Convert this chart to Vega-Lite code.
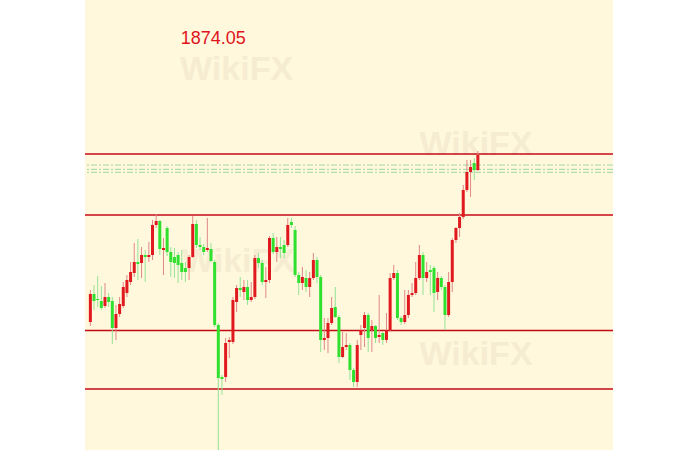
{
  "$schema": "https://vega.github.io/schema/vega-lite/v6.json",
  "autosize": "none",
  "width": 528,
  "height": 450,
  "padding": {"left": 85, "right": 87, "top": 0, "bottom": 0},
  "background": "#ffffff",
  "view": {"fill": "#FFF8DC", "stroke": null},
  "datasets": {
    "candles": [
      {"i":0,"o":1857.8,"h":1861.0,"l":1857.4,"c":1860.6},
      {"i":1,"o":1860.6,"h":1861.5,"l":1859.0,"c":1859.9},
      {"i":2,"o":1860.1,"h":1862.4,"l":1859.3,"c":1860.0},
      {"i":3,"o":1859.9,"h":1861.4,"l":1859.0,"c":1859.2},
      {"i":4,"o":1859.4,"h":1861.7,"l":1859.2,"c":1860.3},
      {"i":5,"o":1860.3,"h":1860.7,"l":1859.3,"c":1859.8},
      {"i":6,"o":1859.9,"h":1860.3,"l":1855.6,"c":1857.2},
      {"i":7,"o":1857.2,"h":1859.5,"l":1856.0,"c":1858.6},
      {"i":8,"o":1858.6,"h":1860.3,"l":1858.3,"c":1859.6},
      {"i":9,"o":1859.4,"h":1861.8,"l":1859.2,"c":1861.3},
      {"i":10,"o":1860.7,"h":1862.5,"l":1860.3,"c":1862.0},
      {"i":11,"o":1861.8,"h":1863.8,"l":1861.5,"c":1862.8},
      {"i":12,"o":1862.7,"h":1865.7,"l":1862.3,"c":1863.8},
      {"i":13,"o":1863.8,"h":1866.1,"l":1862.0,"c":1863.6},
      {"i":14,"o":1863.7,"h":1865.3,"l":1862.2,"c":1864.5},
      {"i":15,"o":1864.5,"h":1865.0,"l":1861.8,"c":1864.3},
      {"i":16,"o":1864.3,"h":1865.8,"l":1863.8,"c":1864.5},
      {"i":17,"o":1864.5,"h":1868.0,"l":1864.0,"c":1867.5},
      {"i":18,"o":1867.5,"h":1868.6,"l":1867.2,"c":1867.9},
      {"i":19,"o":1867.9,"h":1868.0,"l":1864.5,"c":1865.1},
      {"i":20,"o":1865.0,"h":1866.2,"l":1862.5,"c":1865.2},
      {"i":21,"o":1867.2,"h":1867.4,"l":1864.4,"c":1864.8},
      {"i":22,"o":1864.8,"h":1865.3,"l":1862.3,"c":1863.8},
      {"i":23,"o":1864.3,"h":1865.2,"l":1862.2,"c":1863.7},
      {"i":24,"o":1864.5,"h":1864.8,"l":1861.7,"c":1863.5},
      {"i":25,"o":1863.7,"h":1865.0,"l":1862.0,"c":1862.8},
      {"i":26,"o":1863.2,"h":1863.8,"l":1861.8,"c":1862.8},
      {"i":27,"o":1863.2,"h":1864.5,"l":1862.0,"c":1864.3},
      {"i":28,"o":1864.3,"h":1868.4,"l":1864.2,"c":1867.6},
      {"i":29,"o":1867.6,"h":1868.0,"l":1865.2,"c":1865.5},
      {"i":30,"o":1865.5,"h":1866.3,"l":1865.0,"c":1865.3},
      {"i":31,"o":1865.3,"h":1865.6,"l":1864.5,"c":1864.8},
      {"i":32,"o":1865.0,"h":1868.2,"l":1864.8,"c":1865.2},
      {"i":33,"o":1865.1,"h":1865.7,"l":1863.8,"c":1863.9},
      {"i":34,"o":1863.8,"h":1864.0,"l":1857.3,"c":1857.5},
      {"i":35,"o":1857.5,"h":1857.7,"l":1844.0,"c":1852.2},
      {"i":36,"o":1852.3,"h":1852.5,"l":1850.5,"c":1852.1},
      {"i":37,"o":1852.3,"h":1856.2,"l":1851.8,"c":1855.7},
      {"i":38,"o":1855.8,"h":1856.3,"l":1854.2,"c":1856.0},
      {"i":39,"o":1855.8,"h":1860.3,"l":1855.6,"c":1860.0},
      {"i":40,"o":1859.8,"h":1861.5,"l":1858.8,"c":1861.2},
      {"i":41,"o":1861.2,"h":1862.3,"l":1860.3,"c":1861.0},
      {"i":42,"o":1860.8,"h":1862.0,"l":1860.0,"c":1861.3},
      {"i":43,"o":1861.3,"h":1862.0,"l":1859.5,"c":1860.0},
      {"i":44,"o":1860.0,"h":1861.8,"l":1859.8,"c":1860.3},
      {"i":45,"o":1860.3,"h":1864.5,"l":1860.1,"c":1864.2},
      {"i":46,"o":1864.2,"h":1864.7,"l":1863.2,"c":1863.7},
      {"i":47,"o":1863.7,"h":1864.0,"l":1861.5,"c":1861.8},
      {"i":48,"o":1861.8,"h":1863.3,"l":1860.2,"c":1862.0},
      {"i":49,"o":1862.0,"h":1866.4,"l":1861.7,"c":1866.2},
      {"i":50,"o":1866.2,"h":1866.7,"l":1864.6,"c":1864.8},
      {"i":51,"o":1864.8,"h":1866.3,"l":1863.8,"c":1865.3},
      {"i":52,"o":1865.3,"h":1866.3,"l":1864.2,"c":1865.1},
      {"i":53,"o":1865.5,"h":1866.0,"l":1864.2,"c":1864.7},
      {"i":54,"o":1865.5,"h":1868.2,"l":1865.3,"c":1867.5},
      {"i":55,"o":1867.8,"h":1868.2,"l":1867.2,"c":1867.5},
      {"i":56,"o":1867.0,"h":1867.4,"l":1862.3,"c":1862.5},
      {"i":57,"o":1862.5,"h":1862.8,"l":1860.5,"c":1861.7},
      {"i":58,"o":1861.7,"h":1863.3,"l":1861.0,"c":1862.3},
      {"i":59,"o":1862.2,"h":1863.0,"l":1860.8,"c":1861.3},
      {"i":60,"o":1861.3,"h":1862.8,"l":1860.3,"c":1862.2},
      {"i":61,"o":1862.2,"h":1864.7,"l":1862.0,"c":1864.0},
      {"i":62,"o":1864.0,"h":1864.3,"l":1861.7,"c":1862.3},
      {"i":63,"o":1862.3,"h":1862.5,"l":1854.8,"c":1856.0},
      {"i":64,"o":1856.0,"h":1858.2,"l":1855.0,"c":1856.2},
      {"i":65,"o":1856.2,"h":1858.2,"l":1854.7,"c":1857.7},
      {"i":66,"o":1857.7,"h":1860.3,"l":1857.5,"c":1859.2},
      {"i":67,"o":1859.3,"h":1861.3,"l":1858.2,"c":1858.3},
      {"i":68,"o":1858.3,"h":1858.5,"l":1853.7,"c":1854.3},
      {"i":69,"o":1854.3,"h":1856.8,"l":1854.2,"c":1855.3},
      {"i":70,"o":1855.3,"h":1856.7,"l":1855.0,"c":1855.5},
      {"i":71,"o":1855.5,"h":1855.7,"l":1852.0,"c":1853.0},
      {"i":72,"o":1853.0,"h":1853.2,"l":1851.3,"c":1851.8},
      {"i":73,"o":1851.8,"h":1856.0,"l":1851.3,"c":1855.5},
      {"i":74,"o":1856.5,"h":1857.5,"l":1855.0,"c":1857.0},
      {"i":75,"o":1857.2,"h":1858.8,"l":1855.3,"c":1858.5},
      {"i":76,"o":1858.5,"h":1858.7,"l":1854.8,"c":1856.2},
      {"i":77,"o":1857.0,"h":1858.0,"l":1854.8,"c":1857.4},
      {"i":78,"o":1857.4,"h":1857.5,"l":1855.7,"c":1856.2},
      {"i":79,"o":1856.3,"h":1860.5,"l":1855.7,"c":1856.5},
      {"i":80,"o":1856.7,"h":1856.8,"l":1855.5,"c":1856.0},
      {"i":81,"o":1856.0,"h":1858.7,"l":1855.7,"c":1857.0},
      {"i":82,"o":1857.0,"h":1862.7,"l":1856.8,"c":1862.2},
      {"i":83,"o":1862.2,"h":1863.5,"l":1862.0,"c":1862.7},
      {"i":84,"o":1862.7,"h":1863.0,"l":1858.0,"c":1858.2},
      {"i":85,"o":1858.2,"h":1858.4,"l":1857.5,"c":1857.8},
      {"i":86,"o":1857.8,"h":1861.0,"l":1857.6,"c":1858.5},
      {"i":87,"o":1858.5,"h":1861.0,"l":1858.2,"c":1860.5},
      {"i":88,"o":1860.5,"h":1861.7,"l":1860.3,"c":1860.7},
      {"i":89,"o":1860.7,"h":1863.8,"l":1860.5,"c":1862.2},
      {"i":90,"o":1862.2,"h":1865.5,"l":1862.0,"c":1864.5},
      {"i":91,"o":1864.5,"h":1864.8,"l":1860.5,"c":1862.2},
      {"i":92,"o":1862.2,"h":1863.8,"l":1861.8,"c":1862.8},
      {"i":93,"o":1863.0,"h":1863.5,"l":1860.5,"c":1862.8},
      {"i":94,"o":1863.2,"h":1863.4,"l":1858.8,"c":1860.7},
      {"i":95,"o":1860.8,"h":1862.8,"l":1860.0,"c":1862.2},
      {"i":96,"o":1862.2,"h":1862.4,"l":1861.0,"c":1861.3},
      {"i":97,"o":1861.3,"h":1861.5,"l":1857.0,"c":1858.5},
      {"i":98,"o":1858.5,"h":1862.8,"l":1858.3,"c":1861.8},
      {"i":99,"o":1861.8,"h":1866.2,"l":1860.8,"c":1866.0},
      {"i":100,"o":1866.0,"h":1867.3,"l":1865.7,"c":1867.2},
      {"i":101,"o":1867.2,"h":1868.7,"l":1866.3,"c":1868.3},
      {"i":102,"o":1868.3,"h":1871.5,"l":1868.1,"c":1871.0},
      {"i":103,"o":1871.0,"h":1874.0,"l":1870.8,"c":1872.8},
      {"i":104,"o":1872.8,"h":1874.0,"l":1870.3,"c":1873.3},
      {"i":105,"o":1873.7,"h":1874.2,"l":1872.0,"c":1873.0},
      {"i":106,"o":1873.0,"h":1874.9,"l":1872.9,"c":1874.5}
    ],
    "levels": [
      {"level": 1874.6},
      {"level": 1868.5},
      {"level": 1856.95},
      {"level": 1851.1}
    ],
    "dotted": [
      {"level": 1873.5},
      {"level": 1873.07},
      {"level": 1872.77}
    ],
    "watermarks": [
      {"i": 40, "p": 1883.0, "t": "WikiFX"},
      {"i": 105.5, "p": 1875.5, "t": "WikiFX"},
      {"i": 40.5, "p": 1863.8, "t": "WikiFX"},
      {"i": 105.5, "p": 1854.5, "t": "WikiFX"}
    ],
    "label": [
      {"i": 24.7, "p": 1886.1, "t": "1874.05"}
    ]
  },
  "layer": [
    {
      "data": {"name": "watermarks"},
      "mark": {"type": "text", "fontSize": 34, "fontWeight": "bold", "font": "Liberation Sans", "color": "#F6ECD2", "align": "center", "baseline": "middle"},
      "encoding": {
        "x": {"field": "i", "type": "quantitative", "scale": {"domain": [-0.1, 141.6], "nice": false, "zero": false}, "axis": null},
        "y": {"field": "p", "type": "quantitative", "scale": {"domain": [1845, 1890], "nice": false, "zero": false}, "axis": null},
        "text": {"field": "t"}
      }
    },
    {
      "data": {"name": "dotted"},
      "mark": {"type": "rule", "color": "#9ED89E", "strokeWidth": 1, "strokeDash": [6, 2, 2, 2]},
      "encoding": {
        "y": {"field": "level", "type": "quantitative", "scale": {"domain": [1845, 1890], "nice": false, "zero": false}, "axis": null}
      }
    },
    {
      "data": {"name": "levels"},
      "mark": {"type": "rule", "color": "#C40A14", "strokeWidth": 1.3},
      "encoding": {
        "y": {"field": "level", "type": "quantitative", "scale": {"domain": [1845, 1890], "nice": false, "zero": false}, "axis": null}
      }
    },
    {
      "data": {"name": "candles"},
      "mark": {"type": "rule", "strokeWidth": 1, "clip": true},
      "encoding": {
        "x": {"field": "i", "type": "quantitative", "scale": {"domain": [-0.1, 141.6], "nice": false, "zero": false}, "axis": null},
        "y": {"field": "l", "type": "quantitative", "scale": {"domain": [1845, 1890], "nice": false, "zero": false}, "axis": null},
        "y2": {"field": "h"},
        "color": {"condition": {"test": "datum.c >= datum.o", "value": "#E08888"}, "value": "#95E295"}
      }
    },
    {
      "data": {"name": "candles"},
      "mark": {"type": "bar", "width": 3, "clip": true},
      "encoding": {
        "x": {"field": "i", "type": "quantitative", "scale": {"domain": [-0.1, 141.6], "nice": false, "zero": false}, "axis": null},
        "y": {"field": "o", "type": "quantitative", "scale": {"domain": [1845, 1890], "nice": false, "zero": false}, "axis": null},
        "y2": {"field": "c"},
        "color": {"condition": {"test": "datum.c >= datum.o", "value": "#E0191E"}, "value": "#2FE02F"}
      }
    },
    {
      "data": {"name": "label"},
      "mark": {"type": "text", "fontSize": 18, "font": "Liberation Sans", "color": "#E0141E", "align": "left", "baseline": "middle"},
      "encoding": {
        "x": {"field": "i", "type": "quantitative", "scale": {"domain": [-0.1, 141.6], "nice": false, "zero": false}, "axis": null},
        "y": {"field": "p", "type": "quantitative", "scale": {"domain": [1845, 1890], "nice": false, "zero": false}, "axis": null},
        "text": {"field": "t"}
      }
    }
  ]
}
